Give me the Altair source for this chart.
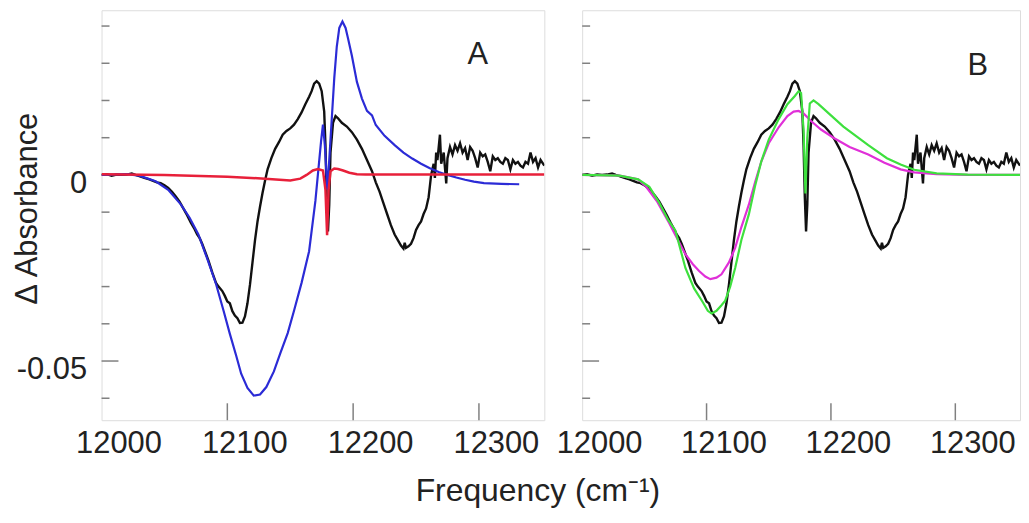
import altair as alt
import pandas as pd

# ---------------- data: (frequency, delta absorbance) ----------------
black = [(12000, 0.0000), (12004, 0.0002), (12008, -0.0002), (12012, 0.0001), (12016, 0.0000), (12020, 0.0001),
         (12024, 0.0004), (12027, 0.0000), (12030, -0.0003), (12034, -0.0008), (12038, -0.0012), (12041, -0.0016),
         (12044, -0.0020), (12047, -0.0022), (12050, -0.0028), (12053, -0.0035), (12056, -0.0045), (12059, -0.0058),
         (12062, -0.0072), (12065, -0.0090), (12068, -0.0108), (12071, -0.0128), (12074, -0.0146), (12076, -0.0160),
         (12078, -0.0170), (12080, -0.0185), (12082, -0.0203), (12085, -0.0230), (12088, -0.0262), (12091, -0.0290),
         (12093, -0.0300), (12096, -0.0312), (12098, -0.0325), (12100, -0.0340), (12102, -0.0345), (12104, -0.0366),
         (12106, -0.0378), (12108, -0.0385), (12110, -0.0398), (12112, -0.0397), (12114, -0.0380), (12116, -0.0345),
         (12118, -0.0295), (12120, -0.0235), (12122, -0.0175), (12124, -0.0125), (12126, -0.0085), (12128, -0.0048),
         (12130, -0.0015), (12132, 0.0015), (12135, 0.0045), (12138, 0.0070), (12141, 0.0088), (12144, 0.0108),
         (12147, 0.0118), (12150, 0.0125), (12153, 0.0135), (12156, 0.0150), (12159, 0.0168), (12162, 0.0190),
         (12165, 0.0210), (12167, 0.0225), (12169, 0.0245), (12171, 0.0252), (12173, 0.0245), (12175, 0.0225),
         (12177, 0.0170), (12178, 0.0080), (12179, -0.0060), (12180, -0.0152), (12181, -0.0080), (12182, 0.0060),
         (12184, 0.0140), (12186, 0.0158), (12188, 0.0152), (12191, 0.0140), (12195, 0.0130), (12199, 0.0115),
         (12203, 0.0095), (12207, 0.0070), (12211, 0.0040), (12215, 0.0010), (12218, -0.0020), (12221, -0.0045),
         (12224, -0.0075), (12227, -0.0105), (12230, -0.0135), (12233, -0.0160), (12236, -0.0178), (12238, -0.0190),
         (12240, -0.0198), (12241, -0.0182), (12242, -0.0196), (12244, -0.0192), (12246, -0.0185), (12248, -0.0170),
         (12250, -0.0148), (12252, -0.0135), (12254, -0.0125), (12256, -0.0105), (12258, -0.0090), (12260, -0.0060),
         (12261, -0.0030), (12262, 0.0000), (12264, 0.0030), (12265, -0.0008), (12266, 0.0060), (12267, 0.0040),
         (12269, 0.0108), (12270, 0.0030), (12272, 0.0060), (12274, -0.0023), (12275, 0.0045), (12277, 0.0075),
         (12279, 0.0055), (12281, 0.0080), (12283, 0.0065), (12285, 0.0085), (12287, 0.0060), (12289, 0.0072),
         (12291, 0.0040), (12293, 0.0075), (12295, 0.0065), (12297, 0.0045), (12299, 0.0020), (12301, 0.0060),
         (12303, 0.0050), (12305, 0.0055), (12307, 0.0035), (12309, 0.0010), (12311, 0.0050), (12313, 0.0040),
         (12315, 0.0045), (12317, 0.0035), (12319, 0.0030), (12321, 0.0045), (12323, 0.0040), (12325, 0.0015),
         (12327, 0.0040), (12329, 0.0030), (12331, 0.0035), (12333, 0.0025), (12335, 0.0020), (12337, 0.0035),
         (12339, 0.0030), (12341, 0.0060), (12343, 0.0035), (12345, 0.0045), (12347, 0.0020), (12349, 0.0040),
         (12352, 0.0025)]

blue = [(12000, 0.0000), (12020, 0.0002), (12030, -0.0002), (12043, -0.0017), (12053, -0.0040), (12063, -0.0079),
        (12070, -0.0115), (12077, -0.0160), (12084, -0.0225), (12091, -0.0293), (12097, -0.0365), (12102, -0.0427),
        (12107, -0.0485), (12111, -0.0534), (12116, -0.0572), (12121, -0.0593), (12126, -0.0590), (12131, -0.0570),
        (12137, -0.0528), (12142, -0.0480), (12148, -0.0425), (12153, -0.0365), (12159, -0.0290), (12165, -0.0205),
        (12170, -0.0070), (12174.5, 0.0090), (12176, 0.0135), (12177.5, 0.0080), (12179.5, -0.0040), (12181, 0.0040),
        (12183, 0.0150), (12185, 0.0260), (12187, 0.0345), (12189, 0.0395), (12191.5, 0.0412), (12194, 0.0395),
        (12196, 0.0366), (12199, 0.0320), (12203, 0.0250), (12207, 0.0205), (12211, 0.0172), (12215, 0.0160),
        (12218, 0.0134), (12225, 0.0105), (12233, 0.0080), (12240, 0.0060), (12247, 0.0044), (12254, 0.0030),
        (12261, 0.0018), (12268, 0.0008), (12275, 0.0000), (12282, -0.0007), (12289, -0.0013), (12296, -0.0018),
        (12304, -0.0022), (12318, -0.0024), (12332, -0.0025)]

red = [(12000, 0.0002), (12050, 0.0000), (12100, -0.0005), (12130, -0.0010), (12150, -0.0015), (12158, -0.0010),
       (12163, 0.0000), (12168, 0.0012), (12172, 0.0016), (12176, 0.0012), (12178, -0.0040), (12179.3, -0.0162),
       (12180.5, -0.0040), (12182, 0.0010), (12185, 0.0017), (12188, 0.0016), (12192, 0.0012), (12197, 0.0006),
       (12203, 0.0002), (12210, 0.0001), (12352, 0.0001)]

magenta = [(12000, 0.0000), (12030, -0.0002), (12045, -0.0012), (12051, -0.0030), (12060, -0.0070),
           (12070, -0.0130), (12077, -0.0175), (12083, -0.0213), (12089, -0.0240), (12094, -0.0258),
           (12099, -0.0273), (12103, -0.0280), (12108, -0.0276), (12112, -0.0267), (12118, -0.0235),
           (12123, -0.0196), (12128, -0.0140), (12134, -0.0080), (12139, -0.0020), (12144, 0.0036), (12150, 0.0085),
           (12158, 0.0128), (12165, 0.0158), (12170, 0.0170), (12174, 0.0172), (12178, 0.0165), (12184, 0.0145),
           (12192, 0.0122), (12203, 0.0098), (12215, 0.0075), (12230, 0.0055), (12243, 0.0033), (12256, 0.0015),
           (12267, 0.0007), (12285, 0.0002), (12310, 0.0000), (12352, 0.0000)]

green = [(12000, 0.0000), (12030, -0.0002), (12045, -0.0012), (12054, -0.0032), (12062, -0.0075), (12069, -0.0120),
         (12075, -0.0150), (12083, -0.0250), (12090, -0.0305), (12097, -0.0342), (12101, -0.0365), (12104, -0.0372),
         (12108, -0.0365), (12112, -0.0350), (12115, -0.0338), (12119, -0.0300), (12123, -0.0250), (12128, -0.0175),
         (12134, -0.0106), (12139, -0.0030), (12144, 0.0036), (12150, 0.0095), (12158, 0.0150), (12165, 0.0190),
         (12171, 0.0212), (12174, 0.0225), (12176, 0.0220), (12178, 0.0120), (12179.5, -0.0050), (12181, 0.0100),
         (12183, 0.0192), (12186, 0.0200), (12190, 0.0190), (12200, 0.0160), (12210, 0.0130), (12220, 0.0105),
         (12230, 0.0080), (12245, 0.0045), (12256, 0.0028), (12267, 0.0014), (12285, 0.0004), (12310, 0.0001),
         (12352, 0.0000)]

minor_ticks = [-0.06, -0.04, -0.03, -0.02, -0.01, 0.01, 0.02, 0.03, 0.04]
major_ticks = [0.0, -0.05]
x_ticks = [12100, 12200, 12300]
x_labels = [12000, 12100, 12200, 12300]
panel_labels = [("A", 12299, 0.0322), ("B", 12318, 0.0293)]

# ---------------- styling ----------------
FONT = "Liberation Sans"
TXT = "#222222"
FRAME = "#808080"
FS = 31
W_A, W_B, H = 445, 440, 412

xscale = alt.Scale(domain=[12000, 12352], nice=False, zero=False)
yscale = alt.Scale(domain=[-0.0659, 0.04425], nice=False, zero=False)

xaxis = alt.Axis(values=x_labels, format="d", ticks=False, domain=False, grid=False, labelFont=FONT,
                 labelFontSize=FS, labelColor=TXT, labelPadding=8, labelOffset=17, labelFlush=False,
                 labelOverlap=False, title=None)
yaxisA = alt.Axis(values=major_ticks, ticks=False, domain=False, grid=False, labelFont=FONT,
                  labelFontSize=FS, labelColor=TXT, labelPadding=15, labelOffset=9,
                  labelExpr="datum.value == 0 ? '0' : '-0.05'", labelOverlap=False, labelFlush=False,
                  title="Δ Absorbance", titleFont=FONT, titleFontSize=FS, titleFontWeight="normal",
                  titleColor=TXT, titleX=-74, titleY=199, titleBaseline="middle", titleAlign="center")


def line_df(pts):
    return pd.DataFrame({"x": [p[0] for p in pts], "y": [p[1] for p in pts]})


def line(pts, color, width, yaxis):
    return alt.Chart(line_df(pts)).mark_line(color=color, strokeWidth=width, clip=True).encode(
        x=alt.X("x:Q", scale=xscale, axis=xaxis),
        y=alt.Y("y:Q", scale=yscale, axis=yaxis),
    )


def tick_layers(yaxis, h):
    minor = alt.Chart(pd.DataFrame({"y": minor_ticks})).mark_rule(color=FRAME, strokeWidth=1.5).encode(
        y=alt.Y("y:Q", scale=yscale, axis=yaxis), x=alt.value(0), x2=alt.value(8))
    major = alt.Chart(pd.DataFrame({"y": major_ticks})).mark_rule(color=FRAME, strokeWidth=1.5).encode(
        y=alt.Y("y:Q", scale=yscale, axis=yaxis), x=alt.value(0), x2=alt.value(17))
    xt = alt.Chart(pd.DataFrame({"x": x_ticks})).mark_rule(color=FRAME, strokeWidth=1.5).encode(
        x=alt.X("x:Q", scale=xscale, axis=xaxis), y=alt.value(h), y2=alt.value(h - 17))
    return [minor, major, xt]


def label_layer(name, lx, ly, yaxis):
    return alt.Chart(pd.DataFrame({"x": [lx], "y": [ly], "t": [name]})).mark_text(
        font=FONT, fontSize=31, color=TXT, align="center", baseline="middle").encode(
        x=alt.X("x:Q", scale=xscale, axis=xaxis), y=alt.Y("y:Q", scale=yscale, axis=yaxis), text="t:N")


panelA = alt.layer(
    *tick_layers(yaxisA, H),
    line(black, "#111111", 2.4, yaxisA),
    line(blue, "#2b2bd6", 2.2, yaxisA),
    line(red, "#e8203a", 2.5, yaxisA),
    label_layer(*panel_labels[0], yaxisA),
).properties(width=W_A, height=H)

panelB = alt.layer(
    *tick_layers(None, H),
    line(black, "#111111", 2.4, None),
    line(magenta, "#e030d8", 2.2, None),
    line(green, "#3ee03e", 2.2, None),
    label_layer(*panel_labels[1], None),
).properties(width=W_B, height=H)

chart = alt.hconcat(panelA, panelB, spacing=38, bounds="flush").properties(
    title=alt.TitleParams("Frequency (cm⁻¹)", orient="bottom", anchor="middle", font=FONT, fontSize=32,
                          fontWeight="normal", color=TXT, dx=22, offset=18),
    padding={"left": 3, "top": 0, "right": 0, "bottom": 0},
).configure_view(stroke=FRAME, strokeWidth=1.5).configure(background="white")

chart.save("out.html", embed_options={"renderer": "svg", "actions": False})
